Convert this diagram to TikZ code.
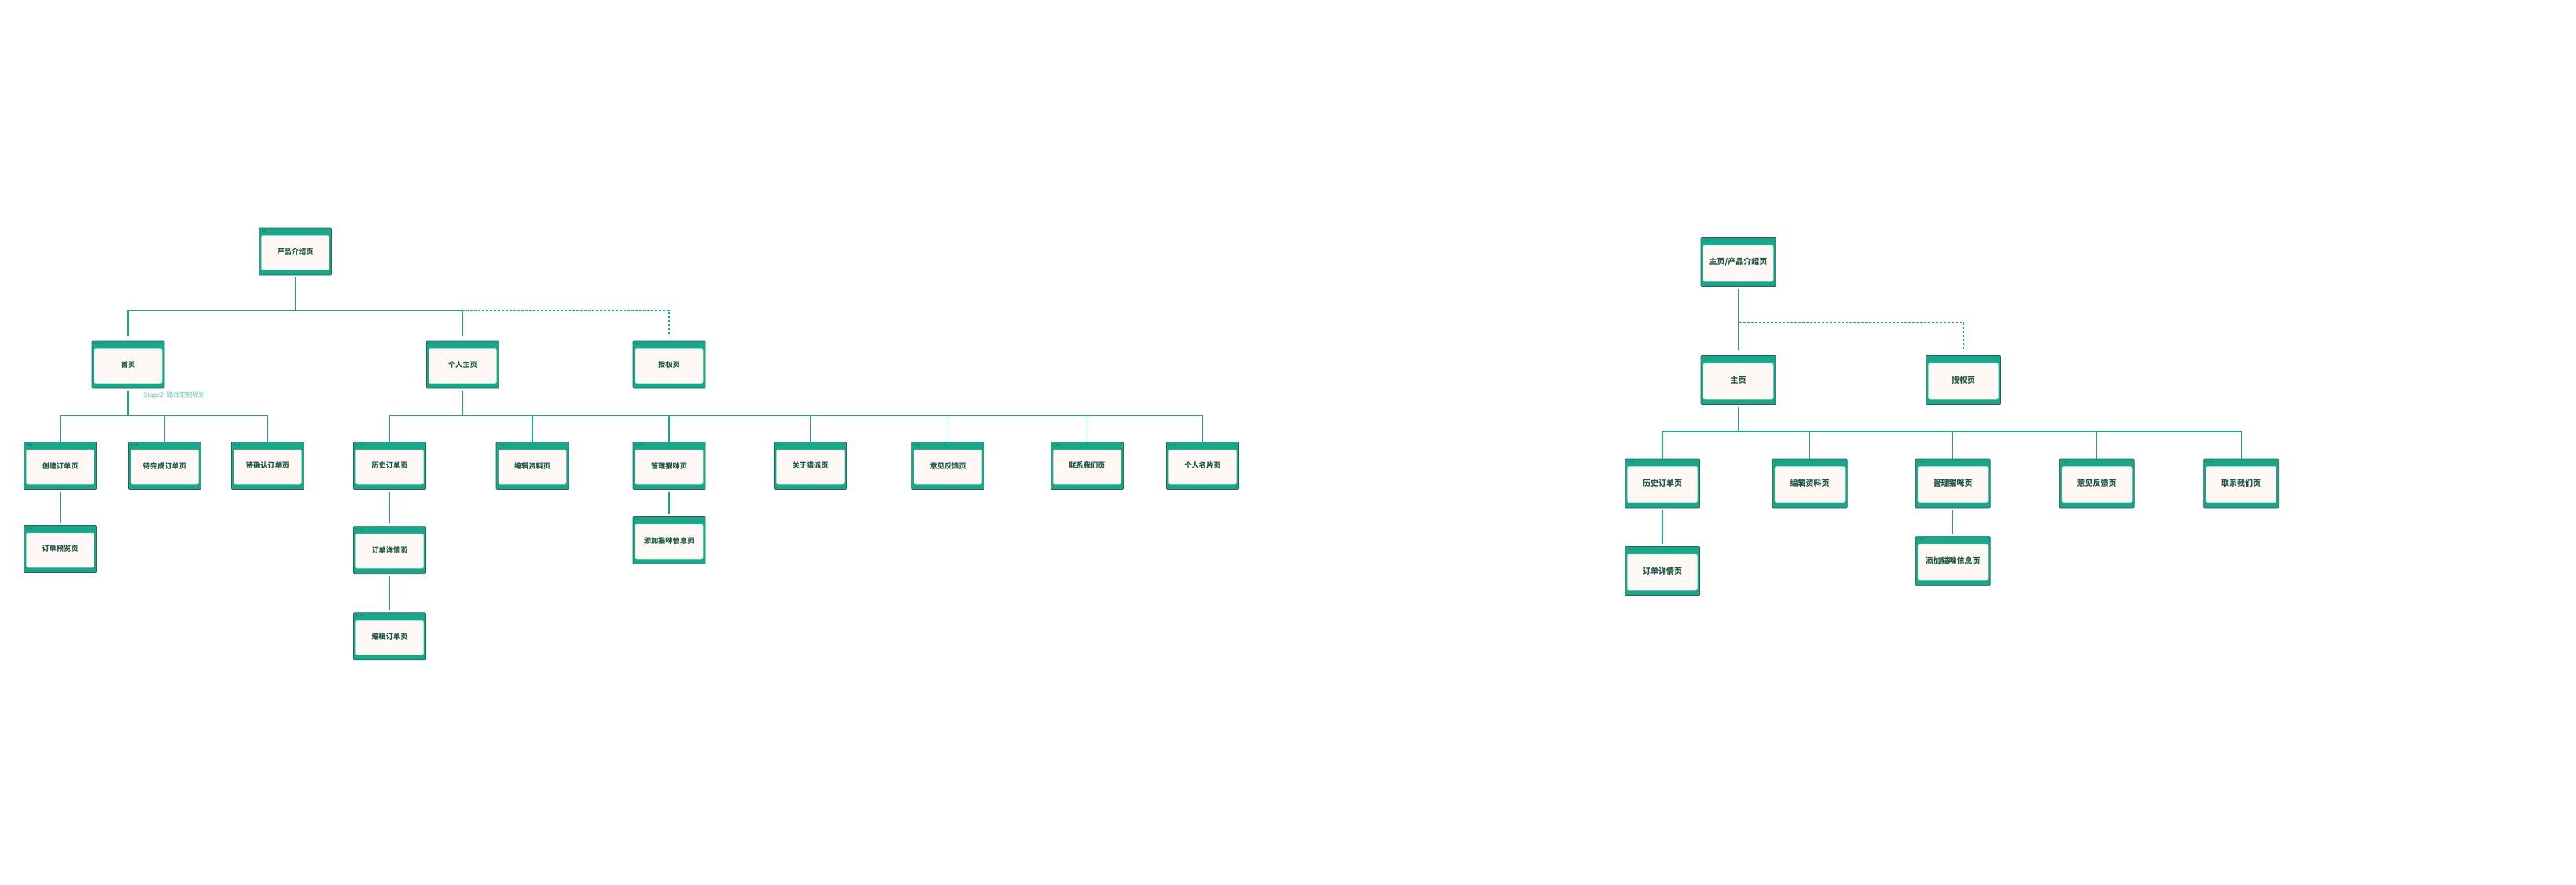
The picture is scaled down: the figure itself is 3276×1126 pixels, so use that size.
\documentclass[tikz,border=0pt]{standalone}
\usepackage{fontspec}
\setmainfont{Noto Sans CJK SC}
\usepackage{tikz}
\definecolor{pTeal}{RGB}{19,169,138}
\definecolor{pEdge}{RGB}{62,88,80}
\definecolor{pIn}{RGB}{255,248,245}
\definecolor{pRim}{RGB}{196,228,218}
\definecolor{pText}{RGB}{30,88,72}
\definecolor{pNote}{RGB}{95,196,172}

\begin{document}
\begin{tikzpicture}[x=1pt,y=-1pt,
  pg/.style={draw=pEdge,fill=pTeal,line width=0.7pt,rounded corners=1pt,minimum width=92pt,minimum height=60pt,inner sep=0pt,text=pText,font=\fontsize{9.2}{10}\selectfont\bfseries,
    path picture={
      \fill[pIn,draw=pRim,line width=0.5pt,rounded corners=2pt] ([xshift=3pt,yshift=-9.5pt]path picture bounding box.north west) rectangle ([xshift=-3pt,yshift=6.5pt]path picture bounding box.south east);
      \foreach \d in {4,7,10} \fill[pEdge] ([xshift=\d pt,yshift=-3.3pt]path picture bounding box.north west) circle (0.7pt);}},
  pgR/.style={pg,minimum width=95pt,minimum height=62pt,font=\fontsize{10}{11}\selectfont\bfseries},
  note/.style={text=pNote,inner sep=0pt,font=\fontsize{8}{9}\selectfont},
  ln/.style={pTeal,line width=1.3pt},
  dl/.style={ln,dash pattern=on 3pt off 2pt}]
\useasboundingbox (0,0) rectangle (3276,1126);
\def\A{464}\def\B{592.5}
% left tree
\node[pg] (intro) at (375.5,320) {产品介绍页};
\node[pg] (home) at (163,\A) {首页};
\node[pg] (mine) at (588.4,\A) {个人主页};
\node[pg] (auth) at (851,\A) {授权页};
\node[note] (stage) at (221.5,503) {Stage2: 路线定制规划};
\node[pg] (create)  at (76.5,\B)  {创建订单页};
\node[pg] (todo)    at (209.5,\B) {待完成订单页};
\node[pg] (confirm) at (340.4,\B) {待确认订单页};
\node[pg] (hist)     at (495.5,\B)  {历史订单页};
\node[pg] (edit)     at (677,\B)    {编辑资料页};
\node[pg] (cats)     at (851,\B)    {管理猫咪页};
\node[pg] (about)    at (1030.5,\B) {关于猫派页};
\node[pg] (feedback) at (1205.6,\B) {意见反馈页};
\node[pg] (contact)  at (1382.4,\B) {联系我们页};
\node[pg] (card)     at (1529.5,\B) {个人名片页};
\node[pg] (preview)   at (76.5,698.5)  {订单预览页};
\node[pg] (detail)    at (495.5,699.7) {订单详情页};
\node[pg] (editorder) at (495.5,809.8) {编辑订单页};
\node[pg] (addcat)    at (851,687.5)   {添加猫咪信息页};
% right tree
\node[pgR] (rintro) at (2210.5,333.5) {主页/产品介绍页};
\node[pgR] (rhome) at (2210.5,483.5) {主页};
\node[pgR] (rauth) at (2497,483.5) {授权页};
\node[pgR] (rhist)    at (2114,615)   {历史订单页};
\node[pgR] (redit)    at (2301.7,615) {编辑资料页};
\node[pgR] (rcats)    at (2483.7,615) {管理猫咪页};
\node[pgR] (rfeed)    at (2666.7,615) {意见反馈页};
\node[pgR] (rcontact) at (2850.2,615) {联系我们页};
\node[pgR] (rdetail) at (2114,726.5)   {订单详情页};
\node[pgR] (raddcat) at (2483.7,713.7) {添加猫咪信息页};
% connectors
\foreach \c in {home,mine} \draw[ln,shorten <=3pt,shorten >=6pt] (intro.south) -- ++(0,45) -| (\c.north);
\coordinate (split) at (588.4,395);
\draw[dl,shorten >=6pt] (split) -| (auth.north);
\foreach \c in {create,todo,confirm} \draw[ln,shorten <=3pt] (home.south) -- ++(0,34) -| (\c.north);
\foreach \c in {hist,edit,cats,about,feedback,contact,card} \draw[ln,shorten <=3pt] (mine.south) -- ++(0,34) -| (\c.north);
\foreach \a/\b in {create/preview,hist/detail,detail/editorder,cats/addcat} \draw[ln,shorten <=3pt,shorten >=3pt] (\a) -- (\b);
\draw[ln,shorten <=3pt,shorten >=7pt] (rintro) -- (rhome);
\coordinate (rsplit) at (2212,410.7);
\draw[dl,shorten >=7pt] (rsplit) -| (rauth.north);
\foreach \c in {rhist,redit,rcats,rfeed,rcontact} \draw[ln,shorten <=3pt] (rhome.south) -- ++(0,34) -| (\c.north);
\foreach \a/\b in {rhist/rdetail,rcats/raddcat} \draw[ln,shorten <=3pt,shorten >=3pt] (\a) -- (\b);
\end{tikzpicture}
\end{document}
